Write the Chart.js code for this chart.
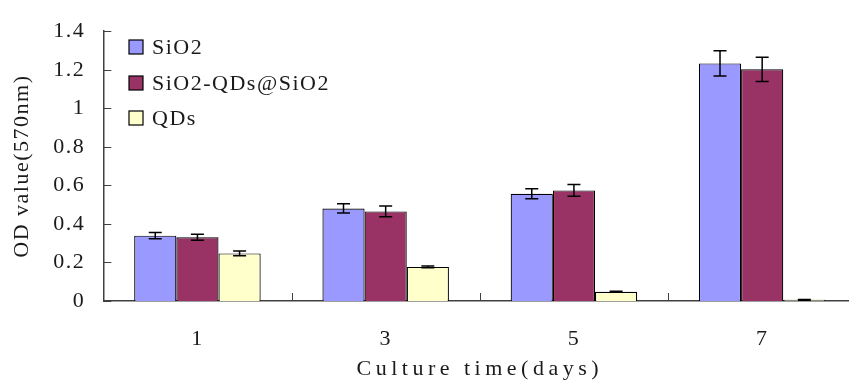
<!DOCTYPE html>
<html>
<head>
<meta charset="utf-8">
<title>OD value chart</title>
<script src="https://cdn.jsdelivr.net/npm/chart.js@4"></script>
<style>
  body { margin: 0; background: #fff; overflow: hidden; }
  #wrap { width: 866px; height: 381px; }
</style>
</head>
<body>
<div id="wrap"><canvas id="myChart"></canvas></div>
<script>
// values
const days = ['1', '3', '5', '7'];
const sio2 = [0.339, 0.480, 0.556, 1.233];
const sio2Err = [0.016, 0.024, 0.026, 0.065];
const coated = [0.331, 0.465, 0.574, 1.202];
const coatedErr = [0.016, 0.028, 0.031, 0.063];
const qds = [0.247, 0.177, 0.048, 0.006];
const qdsErr = [0.012, 0.005, 0.003, 0.002];
const yTicks = [0, 0.2, 0.4, 0.6, 0.8, 1.0, 1.2, 1.4];

const FONT = { family: '"Liberation Serif", "DejaVu Serif", serif', size: 22 };
const AXIS = '#404040';
const TEXT = '#1a1a1a';

// the original uses a wide serif font, spread the letters a bit
const spacing = {
  id: 'spacing',
  beforeDraw(chart) {
    chart.ctx.letterSpacing = '1.5px';
  },
  afterLayout(chart) {
    // x title is wider in the original (monospace font)
    const xs = chart.scales.x;
    if (xs._wideTitle) return;
    const orig = xs.drawTitle;
    xs.drawTitle = function () {
      this.ctx.letterSpacing = '4.5px';
      orig.call(this);
      this.ctx.letterSpacing = '1.5px';
    };
    xs._wideTitle = true;
  }
};

// error bars, drawn with the y scale
const errorBars = {
  id: 'errorBars',
  afterDatasetsDraw(chart) {
    const ctx = chart.ctx;
    const y = chart.scales.y;
    ctx.save();
    ctx.strokeStyle = '#000';
    ctx.lineWidth = 1.5;
    chart.data.datasets.forEach((ds, i) => {
      const meta = chart.getDatasetMeta(i);
      meta.data.forEach((bar, j) => {
        const v = ds.data[j];
        const e = ds.errors[j];
        const top = y.getPixelForValue(v + e);
        const bot = y.getPixelForValue(v - e);
        ctx.beginPath();
        ctx.moveTo(bar.x, top);
        ctx.lineTo(bar.x, bot);
        ctx.moveTo(bar.x - 6.5, top);
        ctx.lineTo(bar.x + 6.5, top);
        ctx.moveTo(bar.x - 6.5, bot);
        ctx.lineTo(bar.x + 6.5, bot);
        ctx.stroke();
      });
    });
    ctx.restore();
  }
};

// small tick marks pointing into the plot
const innerTicks = {
  id: 'innerTicks',
  afterDraw(chart) {
    const ctx = chart.ctx;
    const { x, y } = chart.scales;
    const area = chart.chartArea;
    ctx.save();
    ctx.strokeStyle = AXIS;
    ctx.lineWidth = 1;
    ctx.beginPath();
    yTicks.forEach((t) => {
      const py = Math.round(y.getPixelForValue(t)) + 0.5;
      ctx.moveTo(area.left, py);
      ctx.lineTo(area.left + 8, py);
    });
    for (let i = 0; i < days.length - 1; i++) {
      const px = Math.round((x.getPixelForValue(i) + x.getPixelForValue(i + 1)) / 2) + 0.5;
      ctx.moveTo(px, area.bottom);
      ctx.lineTo(px, area.bottom - 8);
    }
    ctx.stroke();
    ctx.restore();
  }
};

// legend inside the plot, top left
const innerLegend = {
  id: 'innerLegend',
  afterDraw(chart) {
    const ctx = chart.ctx;
    const rows = [47, 83, 118];
    ctx.save();
    ctx.font = `${FONT.size}px ${FONT.family}`;
    ctx.textBaseline = 'middle';
    chart.data.datasets.forEach((ds, i) => {
      const cy = rows[i];
      ctx.fillStyle = ds.backgroundColor;
      ctx.fillRect(129, cy - 7, 14, 14);
      ctx.strokeStyle = '#000';
      ctx.lineWidth = 1.2;
      ctx.strokeRect(129, cy - 7, 14, 14);
      ctx.fillStyle = TEXT;
      ctx.fillText(ds.label, 152, cy + 1);
    });
    ctx.restore();
  }
};

function makeSet(label, data, errors, color) {
  return {
    label: label,
    data: data,
    errors: errors,
    backgroundColor: color,
    borderColor: '#000',
    borderWidth: 1.2,
    categoryPercentage: 0.672,
    barPercentage: 1.0
  };
}

const chart = new Chart(document.querySelector('#myChart'), {
  type: 'bar',
  data: {
    labels: days,
    datasets: [
      makeSet('SiO2', sio2, sio2Err, '#9999FF'),
      makeSet('SiO2-QDs@SiO2', coated, coatedErr, '#993366'),
      makeSet('QDs', qds, qdsErr, '#FFFFCC')
    ]
  },
  options: {
    responsive: true,
    maintainAspectRatio: false,
    animation: false,
    layout: { padding: { left: 0, right: 9.7, top: 19, bottom: 0 } },
    plugins: {
      legend: { display: false },
      tooltip: { enabled: false }
    },
    scales: {
      x: {
        grid: { display: false, drawTicks: false },
        border: { display: true, color: AXIS, width: 1.5 },
        ticks: { font: FONT, color: TEXT, padding: 25, maxRotation: 0 },
        title: {
          display: true,
          text: 'Culture time(days)',
          font: FONT,
          color: TEXT,
          padding: { top: 0, bottom: -1 }
        },
        afterFit(scale) { scale.height = 80; }
      },
      y: {
        min: 0,
        max: 1.4,
        grid: { display: false, drawTicks: false },
        border: { display: true, color: AXIS, width: 1.5 },
        afterBuildTicks(axis) { axis.ticks = yTicks.map((v) => ({ value: v })); },
        ticks: {
          font: FONT,
          color: TEXT,
          padding: 18,
          callback: (v) => String(+v.toFixed(1))
        },
        title: {
          display: true,
          text: 'OD value(570nm)',
          font: FONT,
          color: TEXT,
          padding: { top: 9, bottom: 0 }
        },
        afterFit(scale) { scale.width = 103.3; }
      }
    }
  },
  plugins: [spacing, errorBars, innerTicks, innerLegend]
});
</script>
</body>
</html>
